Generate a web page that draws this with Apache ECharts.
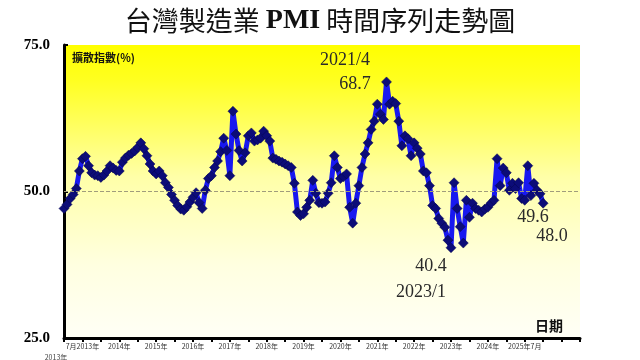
<!DOCTYPE html>
<html><head><meta charset="utf-8">
<script src="https://cdn.jsdelivr.net/npm/echarts@6/dist/echarts.min.js"></script>
<style>html,body{margin:0;padding:0;background:#fff}#c{width:640px;height:360px}</style>
</head><body><div id="c"></div>
<script>
// Monthly Taiwan manufacturing PMI, Jul 2012 - Jul 2025
const startYear = 2012, startMonth = 7;
const pmiValues = [
47.1,47.8,48.8,49.5,50.5,53.5,55.6,56.0,54.4,53.2,52.8,52.7,
52.4,52.8,53.5,54.4,54.0,53.6,53.5,55.0,55.7,56.2,56.5,56.9,
57.5,58.3,57.3,56.1,54.7,53.5,53.0,53.5,52.7,51.5,50.7,49.5,
48.5,47.6,47.0,46.8,47.4,48.2,49.0,49.8,48.1,47.1,50.2,52.2,
52.7,54.1,55.2,56.8,59.1,57.0,52.7,63.7,59.8,57.0,55.2,56.6,
59.5,60.0,58.6,58.8,59.1,60.3,59.5,58.6,55.7,55.5,55.2,55.0,
54.7,54.4,54.1,51.4,46.5,45.9,46.2,47.3,48.5,51.9,49.7,48.1,
48.0,48.2,49.7,51.5,56.1,54.1,52.2,52.5,53.0,47.3,44.6,48.0,
51.0,54.1,56.4,58.3,60.6,62.0,64.9,63.2,62.3,68.7,64.9,65.4,
65.0,62.0,57.8,59.5,59.0,56.1,58.3,57.4,56.4,53.5,53.2,51.0,
47.6,47.1,45.4,44.6,43.9,41.7,40.4,51.5,47.1,44.0,41.2,48.5,
45.6,48.0,47.1,46.8,46.5,47.0,47.3,48.0,48.5,55.6,51.0,54.0,
53.2,50.2,51.4,50.5,51.5,48.8,48.5,54.4,49.3,51.4,50.2,49.6,
48.0
];
const totalMonths = 169; // axis runs to Jul 2026
const yearLabels = ["7月2013年","2014年","2015年","2016年","2017年","2018年","2019年","2020年","2021年","2022年","2023年","2024年","2025年7月"];
const yTicks = [25, 50, 75];
const refLine = 50;
const notes = [
  {text:"2021/4", x:345, y:60},
  {text:"68.7", x:355, y:84},
  {text:"40.4", x:431, y:266},
  {text:"2023/1", x:421, y:292},
  {text:"49.6", x:533, y:217},
  {text:"48.0", x:552, y:236}
];

const months = [];
for (let i = 0; i < totalMonths; i++) {
  const m = (startMonth - 1 + i) % 12 + 1;
  const y = startYear + Math.floor((startMonth - 1 + i) / 12);
  months.push(y + "/" + m);
}

const chart = echarts.init(document.getElementById('c'), null, {renderer:'canvas'});
const serif = '"Liberation Serif","DejaVu Serif",serif';
const cjk = '"Noto Sans CJK TC","Noto Sans CJK SC",sans-serif';

chart.setOption({
  animation:false,
  backgroundColor:'#ffffff',
  title:{
    left:'center', top:2,
    text:'{a|台灣製造業 }{b|PMI}{a| 時間序列走勢圖}',
    textStyle:{
      rich:{
        a:{fontFamily:cjk, fontSize:27, color:'#111', fontWeight:'normal'},
        b:{fontFamily:serif, fontSize:28, color:'#111', fontWeight:'bold'}
      }
    }
  },
  grid:{
    left:64, right:60, top:45, bottom:22, show:true, borderWidth:0,
    backgroundColor:new echarts.graphic.LinearGradient(0,0,0,1,[
      {offset:0,color:'#ffff00'},
      {offset:0.12,color:'#ffff20'},
      {offset:0.45,color:'#ffffa8'},
      {offset:0.75,color:'#ffffe0'},
      {offset:1,color:'#fffff6'}
    ])
  },
  xAxis:{
    type:'category', data:months, boundaryGap:false,
    axisLine:{lineStyle:{color:'#000', width:3}},
    axisTick:{show:true, interval:(i)=> i % 6 === 0, length:4, lineStyle:{color:'#000', width:2}},
    axisLabel:{
      interval:(i)=> i >= 6 && (i - 6) % 12 === 0,
      formatter:(v, i)=> yearLabels[(i - 6) / 12] || '',
      fontFamily:cjk, fontSize:7, color:'#333', margin:5
    },
    splitLine:{show:false}
  },
  yAxis:{
    type:'value', min:yTicks[0], max:yTicks[2], interval:25,
    name:'擴散指數(%)', nameLocation:'end', nameGap:-18,
    nameTextStyle:{fontFamily:cjk, fontSize:11, fontWeight:'bold', color:'#111', align:'left', padding:[0,0,0,8]},
    axisLine:{show:true, lineStyle:{color:'#000', width:3}},
    axisTick:{show:true, inside:true, length:4, lineStyle:{color:'#000', width:2}},
    axisLabel:{formatter:(v)=> v.toFixed(1), fontFamily:serif, fontWeight:'bold', fontSize:15, color:'#000', margin:14},
    splitLine:{show:false}
  },
  series:[{
    type:'line', data:pmiValues,
    showAllSymbol:true, symbol:'diamond', symbolSize:10,
    itemStyle:{color:'#0c0c78', borderColor:'#06064a', borderWidth:0.5},
    lineStyle:{color:'#1818f0', width:5},
    z:3,
    markLine:{
      silent:true, symbol:'none', label:{show:false},
      lineStyle:{type:'dashed', color:'#a09c7c', width:1},
      data:[{yAxis:refLine}]
    }
  }],
  graphic: notes.map(n => ({
    type:'text', x:n.x, y:n.y,
    style:{text:n.text, font:'18px ' + serif, fill:'#2a2a2a', align:'center', verticalAlign:'middle'},
    z:10
  })).concat([
    {type:'text', x:549, y:326,
     style:{text:'日期', font:'bold 14px ' + cjk, fill:'#111', align:'center', verticalAlign:'middle'}, z:10},
    {type:'text', x:56, y:357,
     style:{text:'2013年', font:'7px ' + cjk, fill:'#444', align:'center', verticalAlign:'middle'}}
  ])
});
</script>
</body></html>
